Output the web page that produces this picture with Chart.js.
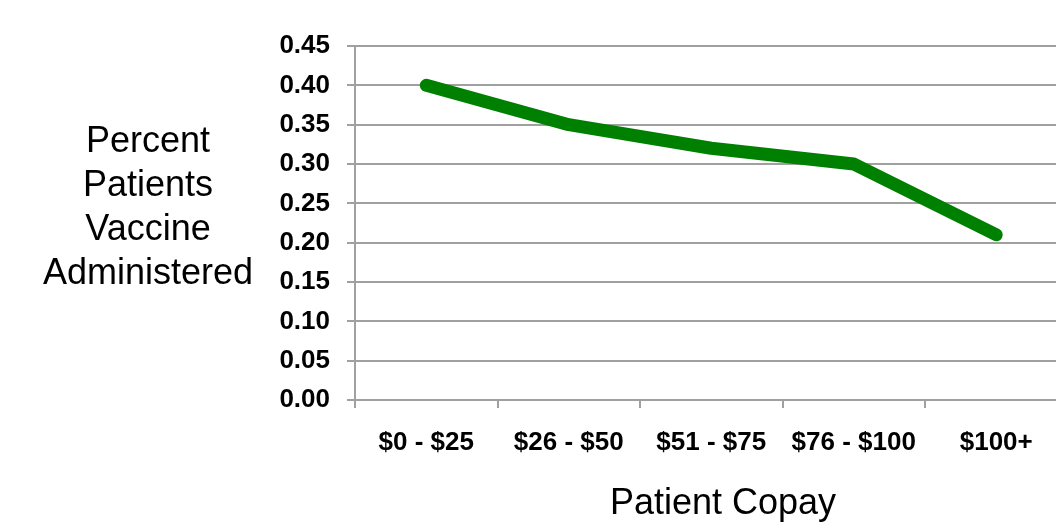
<!DOCTYPE html>
<html>
<head>
<meta charset="utf-8">
<title>Patient Copay vs Vaccine Administered</title>
<script src="https://cdn.jsdelivr.net/npm/chart.js@4/dist/chart.umd.min.js"></script>
<style>
  html, body {
    margin: 0;
    padding: 0;
    background: #fff;
    overflow: hidden;
  }
  .wrap {
    position: relative;
    width: 1056px;
    height: 523px;
    overflow: hidden;
  }
  .chart-box {
    position: absolute;
    left: 0;
    top: 0;
    width: 1070px;
    height: 523px;
  }
  .y-title {
    position: absolute;
    left: 28px;
    top: 118px;
    width: 240px;
    text-align: center;
    font-family: "Liberation Sans", Arial, sans-serif;
    font-size: 36px;
    line-height: 44px;
    color: #000;
  }
  .x-title {
    position: absolute;
    left: 523px;
    top: 480px;
    width: 400px;
    text-align: center;
    font-family: "Liberation Sans", Arial, sans-serif;
    font-size: 36px;
    line-height: 44px;
    color: #000;
  }
</style>
</head>
<body>
<div class="wrap">
  <div class="chart-box">
    <canvas id="copayChart" width="1070" height="523"></canvas>
  </div>
  <div class="y-title">Percent<br>Patients<br>Vaccine<br>Administered</div>
  <div class="x-title">Patient Copay</div>
</div>

<script>
// === Chart data ===
const copayBands = ["$0 - $25", "$26 - $50", "$51 - $75", "$76 - $100", "$100+"];
const shareVaccinated = [0.40, 0.35, 0.32, 0.30, 0.21];
const yTickValues = [0.00, 0.05, 0.10, 0.15, 0.20, 0.25, 0.30, 0.35, 0.40, 0.45];

const gridGray = "#a0a0a0";
const tickFont = { family: "'Liberation Sans', Arial, sans-serif", size: 26, weight: "bold" };

const ctx = document.getElementById("copayChart").getContext("2d");
new Chart(ctx, {
  type: "line",
  data: {
    labels: copayBands,
    datasets: [
      {
        label: "Percent Patients Vaccine Administered",
        data: shareVaccinated,
        borderColor: "#008000",
        borderWidth: 13,
        borderCapStyle: "round",
        borderJoinStyle: "round",
        pointRadius: 0,
        tension: 0,
        fill: false,
      },
    ],
  },
  options: {
    responsive: false,
    animation: false,
    layout: { padding: { top: 46, right: 2.5, left: 0, bottom: 0 } },
    plugins: {
      legend: { display: false },
      tooltip: { enabled: false },
    },
    scales: {
      x: {
        type: "category",
        offset: true,
        afterFit: (scale) => {
          scale.height = 123;
        },
        grid: {
          offset: true,
          drawOnChartArea: false,
          drawTicks: true,
          tickLength: 8,
          color: gridGray,
          lineWidth: 2,
        },
        border: { color: gridGray, width: 2 },
        ticks: {
          color: "#000",
          font: tickFont,
          padding: 19,
          maxRotation: 0,
          autoSkip: false,
        },
      },
      y: {
        min: 0,
        max: 0.45,
        afterFit: (scale) => {
          scale.width = 355;
        },
        afterBuildTicks: (axis) => {
          axis.ticks = yTickValues.map((v) => ({ value: v }));
        },
        grid: {
          color: gridGray,
          lineWidth: 2,
          tickLength: 8,
        },
        border: { color: gridGray, width: 2 },
        ticks: {
          color: "#000",
          font: tickFont,
          padding: 17,
          callback: (value) => Number(value).toFixed(2),
        },
      },
    },
  },
});
</script>
</body>
</html>
